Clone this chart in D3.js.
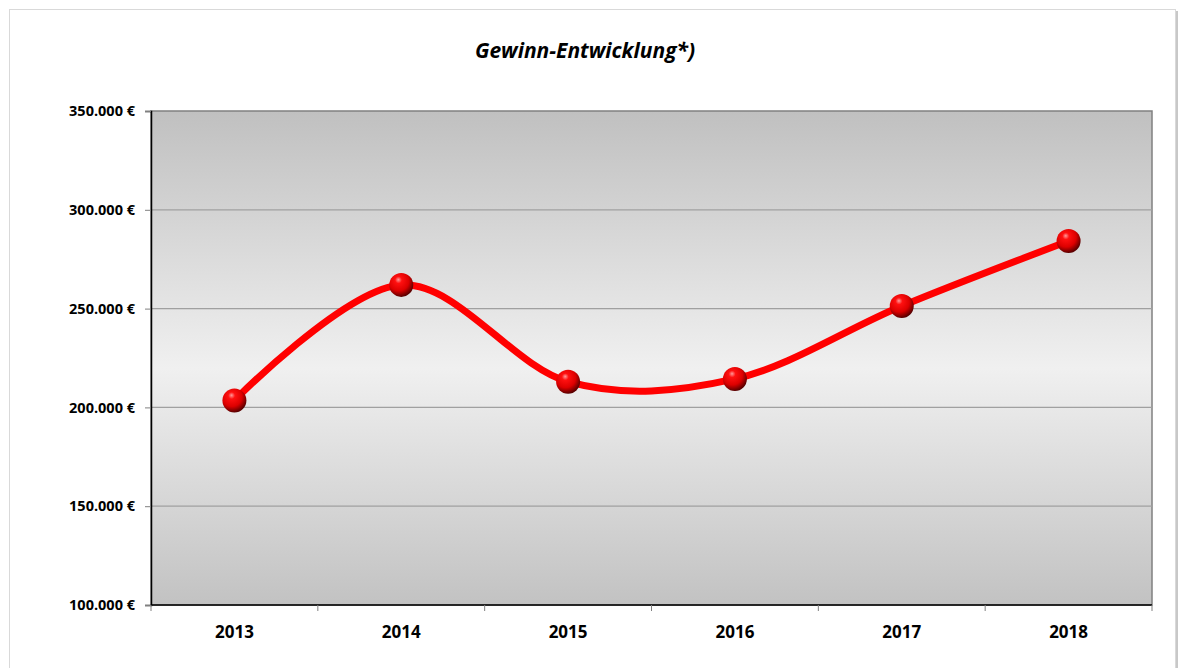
<!DOCTYPE html>
<html>
<head>
<meta charset="utf-8">
<script src="https://cdn.jsdelivr.net/npm/d3@7"></script>
<style>
  body { margin: 0; background: #fff; }
  svg { display: block; font-family: "Open Sans", "DejaVu Sans", sans-serif; }
</style>
</head>
<body>
<svg id="chart" width="1178" height="668"></svg>
<script>
// data
var years = ["2013", "2014", "2015", "2016", "2017", "2018"];
var profit = [203500, 262000, 213000, 214400, 251300, 284200];
var yTicks = [100000, 150000, 200000, 250000, 300000, 350000];

var svg = d3.select("#chart");
var plotL = 151, plotR = 1152, plotT = 111, plotB = 605;

var defs = svg.append("defs");

var bg = defs.append("linearGradient")
  .attr("id", "bg").attr("x1", 0).attr("y1", 0).attr("x2", 0).attr("y2", 1);
bg.append("stop").attr("offset", "0%").attr("stop-color", "#c0c0c0");
bg.append("stop").attr("offset", "52%").attr("stop-color", "#f0f0f0");
bg.append("stop").attr("offset", "100%").attr("stop-color", "#c2c2c2");

var ball = defs.append("radialGradient")
  .attr("id", "ball").attr("cx", "40%").attr("cy", "35%").attr("r", "65%")
  .attr("fx", "38%").attr("fy", "28%");
ball.append("stop").attr("offset", "0%").attr("stop-color", "#ff9a9a");
ball.append("stop").attr("offset", "22%").attr("stop-color", "#ff1010");
ball.append("stop").attr("offset", "65%").attr("stop-color", "#dd0000");
ball.append("stop").attr("offset", "100%").attr("stop-color", "#5a0000");

// outer frame
svg.append("rect")
  .attr("x", 9.5).attr("y", 9.5).attr("width", 1166).attr("height", 680)
  .attr("fill", "#fff").attr("stroke", "#d9d9d9");
svg.append("line")
  .attr("x1", 1177).attr("x2", 1177).attr("y1", 11).attr("y2", 668)
  .attr("stroke", "#c8c8c8").attr("stroke-width", 2);

svg.append("text")
  .attr("x", 585).attr("y", 58)
  .attr("text-anchor", "middle")
  .style("font-size", "21px").style("font-weight", "bold").style("font-style", "italic")
  .text("Gewinn-Entwicklung*)");

var x = d3.scaleBand().domain(years).range([plotL, plotR]);
var y = d3.scaleLinear().domain([100000, 350000]).range([plotB, plotT]);

// plot area
svg.append("rect")
  .attr("x", plotL).attr("y", plotT)
  .attr("width", plotR - plotL).attr("height", plotB - plotT)
  .attr("fill", "url(#bg)").attr("stroke", "#808080").attr("stroke-width", 1.5);

// grid lines
svg.append("g").selectAll("line")
  .data(yTicks.slice(1, -1))
  .enter().append("line")
  .attr("x1", plotL).attr("x2", plotR)
  .attr("y1", function (d) { return y(d); })
  .attr("y2", function (d) { return y(d); })
  .attr("stroke", "#a0a0a0").attr("stroke-width", 1.3);

var fmt = function (d) {
  return d3.format(",")(d).replace(/,/g, ".") + " €";
};

var yAxis = svg.append("g")
  .attr("transform", "translate(" + plotL + ",0)")
  .call(d3.axisLeft(y).tickValues(yTicks).tickFormat(fmt).tickSize(6).tickPadding(10));
yAxis.select(".domain").attr("stroke", "#000").attr("stroke-width", 1.5);
yAxis.selectAll(".tick line").attr("stroke", "#808080");
yAxis.selectAll("text")
  .attr("fill", "#000")
  .style("font-size", "14.5px").style("font-weight", "bold")
  .style("font-family", "Open Sans, sans-serif");

var xAxis = svg.append("g")
  .attr("transform", "translate(0," + plotB + ")")
  .call(d3.axisBottom(x).tickSize(0).tickPadding(21));
xAxis.select(".domain").remove();
xAxis.append("line")
  .attr("x1", plotL).attr("x2", plotR).attr("stroke", "#000").attr("stroke-width", 1.5);
xAxis.selectAll(".bound")
  .data(years.concat(["end"]))
  .enter().append("line")
  .attr("class", "bound")
  .attr("x1", function (d, i) { return plotL + i * x.step(); })
  .attr("x2", function (d, i) { return plotL + i * x.step(); })
  .attr("y1", 0).attr("y2", 6)
  .attr("stroke", "#808080");
xAxis.selectAll(".tick text")
  .attr("fill", "#000")
  .style("font-size", "17px").style("font-weight", "bold")
  .style("font-family", "Open Sans, sans-serif");

var cx = function (d, i) { return x(years[i]) + x.bandwidth() / 2; };

var line = d3.line()
  .x(cx)
  .y(function (d) { return y(d); })
  .curve(d3.curveCardinal.tension(0));

svg.append("path")
  .datum(profit)
  .attr("d", line)
  .attr("fill", "none")
  .attr("stroke", "#ff0000")
  .attr("stroke-width", 7)
  .attr("stroke-linecap", "round");

svg.append("g").selectAll("circle")
  .data(profit)
  .enter().append("circle")
  .attr("cx", cx)
  .attr("cy", function (d) { return y(d); })
  .attr("r", 12)
  .attr("fill", "url(#ball)");
</script>
</body>
</html>
